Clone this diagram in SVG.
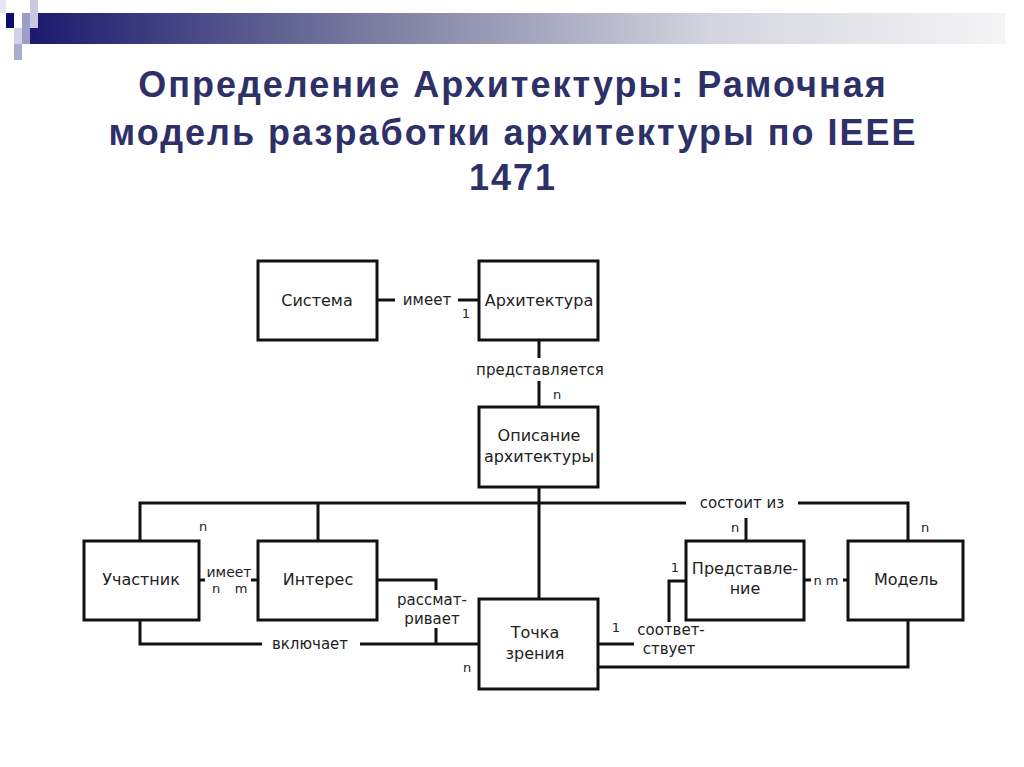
<svg xmlns="http://www.w3.org/2000/svg" width="1024" height="767" viewBox="0 0 1024 767">
<defs>
<linearGradient id="bar" x1="0" y1="0" x2="1" y2="0">
<stop offset="0" stop-color="#1a1a6e"/>
<stop offset="0.35" stop-color="#7a7ca0"/>
<stop offset="0.7" stop-color="#d4d5df"/>
<stop offset="1" stop-color="#f4f4f6"/>
</linearGradient>
</defs>
<style>
.box{fill:#fff;stroke:#111;stroke-width:3}
.ln{fill:none;stroke:#111;stroke-width:3}
.t{font-family:"DejaVu Sans","Noto Sans",sans-serif;font-size:16px;fill:#222;text-anchor:middle}
.s{font-family:"DejaVu Sans","Noto Sans",sans-serif;font-size:15px;fill:#222;text-anchor:middle}
.m{font-family:"DejaVu Sans","Noto Sans",sans-serif;font-size:14px;fill:#222;text-anchor:middle}
.c{font-family:"DejaVu Sans","Noto Sans",sans-serif;font-size:13px;fill:#222;text-anchor:middle}
.title{font-family:"Liberation Sans",Arial,sans-serif;font-weight:bold;font-size:36px;letter-spacing:2px;fill:#2e3168;text-anchor:middle}
</style>
<rect width="1024" height="767" fill="#fff"/>
<g id="header">
<rect x="30" y="13" width="975" height="31" fill="url(#bar)"/>
<rect x="30" y="0" width="8" height="28" fill="#c8c9e0"/>
<rect x="22" y="13" width="8" height="31" fill="#9c9ec8"/>
<rect x="6" y="13" width="8" height="15" fill="#0d0d6b"/>
<rect x="14" y="28" width="8" height="16" fill="#d0d1e6"/>
<rect x="14" y="44" width="8" height="16" fill="#a9abd0"/>
<rect x="0" y="0" width="6" height="13" fill="#e6e6f0"/>
</g>
<g id="title">
<text class="title" x="513" y="97">Определение Архитектуры: Рамочная</text>
<text class="title" x="513" y="145">модель разработки архитектуры по IEEE</text>
<text class="title" x="513" y="190">1471</text>
</g>
<g id="connectors">
<path class="ln" d="M377 300H395M458 300H479"/>
<path class="ln" d="M539 340V358M539 381V407"/>
<path class="ln" d="M539 487V599"/>
<path class="ln" d="M140 541V503H686M798 503H908V541"/>
<path class="ln" d="M318 503V541"/>
<path class="ln" d="M746 518V541"/>
<path class="ln" d="M199 580H205M251 580H258"/>
<path class="ln" d="M377 580H436V590M436 628V644"/>
<path class="ln" d="M140 620V644H262M360 644H479"/>
<path class="ln" d="M598 644H634"/>
<path class="ln" d="M669 622V581H686"/>
<path class="ln" d="M804 580H811M843 580H848"/>
<path class="ln" d="M908 620V667H598"/>
<text class="s" x="427" y="305">имеет</text>
<text class="c" x="466" y="318">1</text>
<text class="s" x="540" y="375">представляется</text>
<text class="c" x="557" y="399">n</text>
<text class="s" x="742" y="508">состоит из</text>
<text class="c" x="203" y="531">n</text>
<text class="c" x="735" y="532">n</text>
<text class="c" x="925" y="532">n</text>
<text class="m" x="229" y="577">имеет</text>
<text class="c" x="216" y="593">n</text>
<text class="c" x="241" y="593">m</text>
<text class="s" x="432" y="605">рассмат-</text>
<text class="s" x="432" y="624">ривает</text>
<text class="s" x="310" y="649">включает</text>
<text class="c" x="467" y="672">n</text>
<text class="c" x="616" y="632">1</text>
<text class="s" x="671" y="635">соответ-</text>
<text class="s" x="669" y="654">ствует</text>
<text class="c" x="675" y="572">1</text>
<text class="c" x="826" y="585">n m</text>
</g>
<g id="sistema"><rect class="box" x="258" y="261" width="119" height="79"/><text class="t" x="317" y="306">Система</text></g>
<g id="arhitektura"><rect class="box" x="479" y="261" width="119" height="79"/><text class="t" x="539" y="306">Архитектура</text></g>
<g id="opisanie"><rect class="box" x="479" y="407" width="119" height="80"/><text class="t" x="539" y="441">Описание</text><text class="t" x="539" y="462">архитектуры</text></g>
<g id="uchastnik"><rect class="box" x="84" y="541" width="115" height="79"/><text class="t" x="141" y="585">Участник</text></g>
<g id="interes"><rect class="box" x="258" y="541" width="119" height="79"/><text class="t" x="318" y="585">Интерес</text></g>
<g id="tochka"><rect class="box" x="479" y="599" width="119" height="90"/><text class="t" x="535" y="638">Точка</text><text class="t" x="535" y="659">зрения</text></g>
<g id="predstavlenie"><rect class="box" x="686" y="541" width="118" height="79"/><text class="t" x="745" y="574">Представле-</text><text class="t" x="745" y="594">ние</text></g>
<g id="model"><rect class="box" x="848" y="541" width="115" height="79"/><text class="t" x="906" y="585">Модель</text></g>
</svg>
